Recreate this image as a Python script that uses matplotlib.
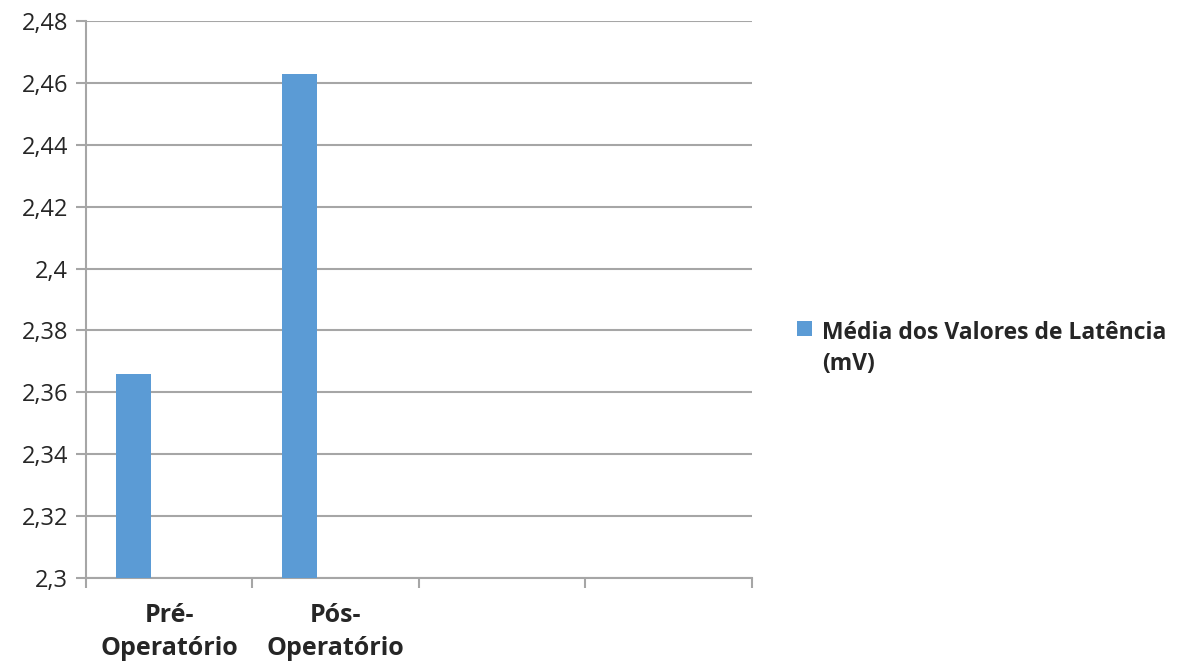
import numpy as np
import matplotlib.pyplot as plt
from matplotlib.ticker import FuncFormatter
from matplotlib.offsetbox import HPacker

# dados
categorias = ["Pré-\nOperatório", "Pós-\nOperatório", "", ""]
media_latencia = [2.366, 2.463, np.nan, np.nan]
serie_nome = "Média dos Valores de Latência\n(mV)"
y_ticks = [2.30, 2.32, 2.34, 2.36, 2.38, 2.40, 2.42, 2.44, 2.46, 2.48]

plt.rcParams['font.family'] = ['Open Sans', 'DejaVu Sans']
cinza = "#a6a6a6"
texto = "#262626"

fig = plt.figure(figsize=(11.84, 6.71), dpi=100)
ax = fig.add_axes([0.0726, 0.1386, 0.5625, 0.8301])

x = np.arange(len(categorias))
ax.bar(x - 0.217, media_latencia, width=0.21, bottom=0, color="#5b9bd5",
       label=serie_nome, zorder=3)

ax.set_xlim(-0.5, len(categorias) - 0.5)
ax.set_ylim(2.3, 2.48)
ax.set_yticks(y_ticks)
ax.yaxis.set_major_formatter(FuncFormatter(lambda v, p: ("%g" % round(v, 2)).replace(".", ",")))
ax.grid(axis="y", color=cinza, lw=1.5, zorder=0)

ax.set_xticks(x)
ax.set_xticklabels(categorias, fontweight="bold", fontsize=18, linespacing=1.4)
ax.set_xticks(np.arange(len(categorias) + 1) - 0.5, minor=True)
ax.tick_params(axis="x", which="major", length=0, pad=18, labelcolor=texto)
ax.tick_params(axis="x", which="minor", length=7, width=1.5, color=cinza)
ax.tick_params(axis="y", length=7, width=1.5, color=cinza, labelsize=17, pad=6,
               labelcolor=texto)

for s in ["top", "right"]:
    ax.spines[s].set_visible(False)
for s in ["left", "bottom"]:
    ax.spines[s].set_color(cinza)
    ax.spines[s].set_linewidth(1.5)

leg = ax.legend(loc="center left", bbox_to_anchor=(1.037, 0.412), frameon=False,
                handlelength=0.65, handleheight=0.65, handletextpad=0.42,
                prop={"weight": "bold", "size": 16.5})
for t in leg.get_texts():
    t.set_color(texto)
    t.set_linespacing(1.4)
# quadrado alinhado com a primeira linha do texto
for hp in leg.findobj(HPacker):
    hp.align = "top"

plt.savefig("out.png", dpi=100)
